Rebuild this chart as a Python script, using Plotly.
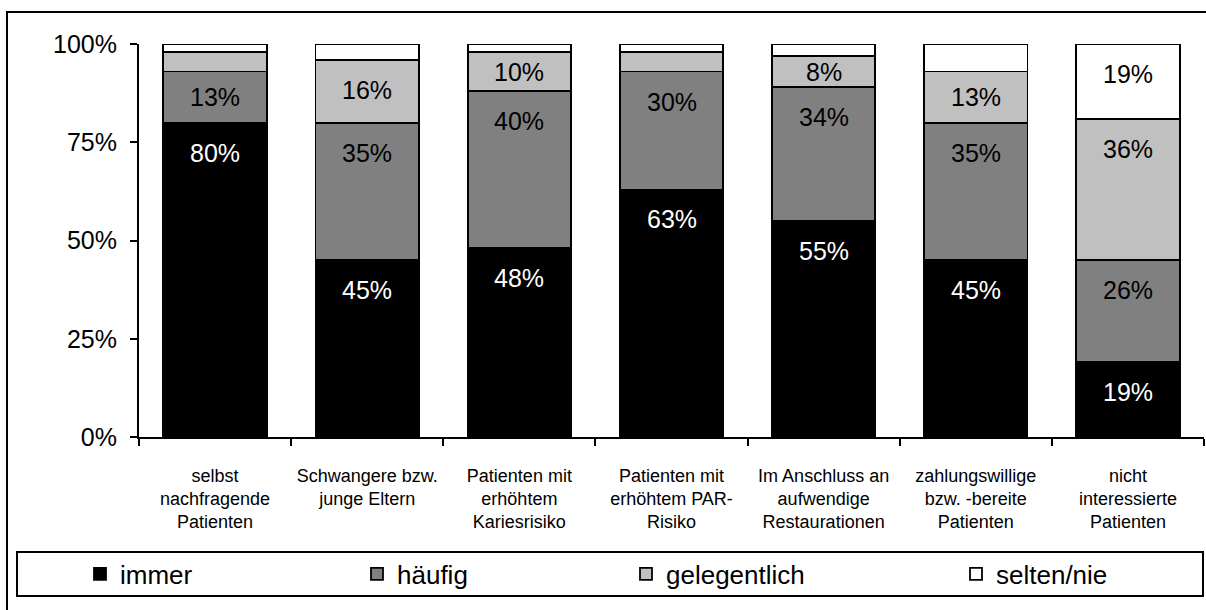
import plotly.graph_objects as go

categories = [
    "selbst<br>nachfragende<br>Patienten",
    "Schwangere bzw.<br>junge Eltern",
    "Patienten mit<br>erhöhtem<br>Kariesrisiko",
    "Patienten mit<br>erhöhtem PAR-<br>Risiko",
    "Im Anschluss an<br>aufwendige<br>Restaurationen",
    "zahlungswillige<br>bzw. -bereite<br>Patienten",
    "nicht<br>interessierte<br>Patienten",
]
immer = [80, 45, 48, 63, 55, 45, 19]
haeufig = [13, 35, 40, 30, 34, 35, 26]
gelegentlich = [5, 16, 10, 5, 8, 13, 36]
selten = [2, 4, 2, 2, 3, 7, 19]

series = [
    ("immer", immer, "#000000", "white"),
    ("häufig", haeufig, "#808080", "black"),
    ("gelegentlich", gelegentlich, "#C0C0C0", "black"),
    ("selten/nie", selten, "#FFFFFF", "black"),
]
y_ticks = [0, 25, 50, 75, 100]
LABEL_MIN = 8

W, H = 1206, 610
ML, MR, MT, MB = 139, 2, 44, 173
plot_w = W - ML - MR
plot_h = H - MT - MB
ppu = plot_h / 100.0

FONT = "Liberation Sans, Arial, sans-serif"

def px_x(p):
    return (p - ML) / plot_w

def px_y(p):
    return (H - MB - p) / plot_h

legend_names = ["legend", "legend2", "legend3", "legend4"]
legend_px = [80, 357, 626, 956]

fig = go.Figure()
annotations = []
base = [0] * len(categories)
for k, (name, vals, color, tcolor) in enumerate(series):
    fig.add_trace(go.Bar(
        x=categories, y=vals, name=name, legend=legend_names[k],
        marker=dict(color=color, line=dict(color="black", width=1.8)),
    ))
    for i, v in enumerate(vals):
        top = base[i] + v
        if v >= LABEL_MIN:
            annotations.append(dict(
                x=categories[i], y=top, xref="x", yref="y",
                text=f"{v}%", showarrow=False,
                yshift=-min(30, v * ppu / 2), yanchor="middle",
                font=dict(family=FONT, size=25, color=tcolor),
            ))
        base[i] = top

shapes = [
    # outer chart border
    dict(type="rect", xref="paper", yref="paper",
         x0=px_x(7), x1=px_x(1215), y0=px_y(620), y1=px_y(12),
         line=dict(color="black", width=2), fillcolor="rgba(0,0,0,0)", layer="below"),
    # legend box
    dict(type="rect", xref="paper", yref="paper",
         x0=px_x(17), x1=px_x(1203), y0=px_y(596), y1=px_y(552),
         line=dict(color="black", width=2), fillcolor="rgba(0,0,0,0)"),
]

legend_layout = {}
for name, lx in zip(legend_names, legend_px):
    legend_layout[name] = dict(
        orientation="h", x=px_x(lx), xanchor="left", y=px_y(574), yanchor="middle",
        font=dict(family=FONT, size=26, color="black"),
        bgcolor="rgba(0,0,0,0)", borderwidth=0,
    )

fig.update_layout(
    width=W, height=H,
    margin=dict(l=ML, r=MR, t=MT, b=MB, autoexpand=False),
    barmode="stack", bargap=0.32,
    plot_bgcolor="white", paper_bgcolor="white",
    font=dict(family=FONT, color="black"),
    showlegend=True,
    annotations=annotations,
    shapes=shapes,
    xaxis=dict(
        showline=True, linecolor="black", linewidth=2,
        ticks="outside", ticklen=7, tickwidth=2, tickcolor="black",
        tickson="boundaries", showgrid=False,
        tickfont=dict(family=FONT, size=18, color="black"),
        ticklabelstandoff=21,
    ),
    yaxis=dict(
        range=[0, 100], tickvals=y_ticks, ticktext=[f"{t}%" for t in y_ticks],
        showline=True, linecolor="black", linewidth=2,
        ticks="outside", ticklen=7, tickwidth=2, tickcolor="black",
        showgrid=False, zeroline=False,
        tickfont=dict(family=FONT, size=25, color="black"),
        ticklabelstandoff=8,
    ),
    **legend_layout,
)

fig.write_html(
    "out.html",
    config={"displayModeBar": False},
    post_script="document.body.style.margin='0px';document.body.style.overflow='hidden';",
)
